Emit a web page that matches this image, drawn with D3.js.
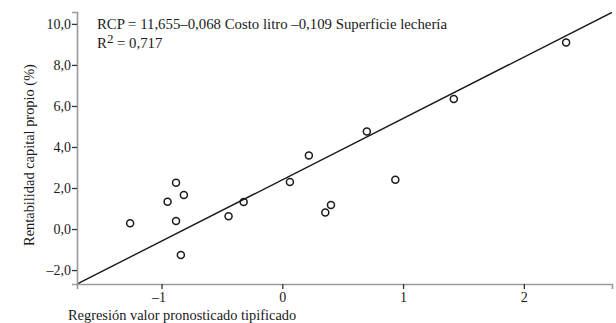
<!DOCTYPE html>
<html>
<head>
<meta charset="utf-8">
<script src="https://d3js.org/d3.v7.min.js"></script>
<style>
  body { margin: 0; background: #fff; }
  text { font-family: "Liberation Serif", "DejaVu Serif", serif; fill: #1a1a1a; }
</style>
</head>
<body>
<svg width="616" height="323"></svg>
<script>
// standardized predicted value (x) and RCP % (y)
const predVals = [-1.26, -0.95, -0.88, -0.815, -0.88, -0.84, -0.445, -0.32, 0.063, 0.22, 0.70, 1.42, 2.35, 0.356, 0.403, 0.936];
const rcpVals  = [0.28, 1.33, 2.26, 1.66, 0.39, -1.27, 0.62, 1.32, 2.29, 3.58, 4.75, 6.34, 9.09, 0.81, 1.17, 2.40];
const yTicks = [-2, 0, 2, 4, 6, 8, 10];
const xTicks = [-1, 0, 1, 2];
const fitIntercept = 2.40;
const fitSlope = 2.99;
const eqLine = "RCP = 11,655–0,068 Costo litro –0,109 Superficie lechería";
const r2Text = "0,717";

const svg = d3.select("svg");
const pLeft = 77, pRight = 612, pTop = 12, pBottom = 284;

const x = d3.scaleLinear().domain([-1.70, 2.73]).range([pLeft, pRight]);
const y = d3.scaleLinear().domain([-2.68, 10.58]).range([pBottom, pTop]);

const loc = d3.formatLocale({decimal: ",", thousands: ".", grouping: [3], currency: ["", ""], minus: "–"});
const fy = loc.format(".1f");
const fx = loc.format("d");

// regression line, clipped to the plot
svg.append("clipPath").attr("id", "clip")
  .append("rect").attr("x", pLeft).attr("y", pTop).attr("width", pRight - pLeft).attr("height", pBottom - pTop);
const [x0, x1] = x.domain();
svg.append("line")
  .attr("clip-path", "url(#clip)")
  .attr("x1", x(x0)).attr("y1", y(fitIntercept + fitSlope * x0))
  .attr("x2", x(x1)).attr("y2", y(fitIntercept + fitSlope * x1))
  .attr("stroke", "#1a1a1a").attr("stroke-width", 1.4);

// axes
const yAxis = svg.append("g").attr("transform", `translate(${pLeft},0)`)
  .call(d3.axisLeft(y).tickValues(yTicks).tickFormat(fy).tickSize(5).tickPadding(1));
const xAxis = svg.append("g").attr("transform", `translate(0,${pBottom})`)
  .call(d3.axisBottom(x).tickValues(xTicks).tickFormat(fx).tickSize(5).tickPadding(3));
[yAxis, xAxis].forEach(g => {
  g.select(".domain").attr("stroke", "#9a9a9a").attr("stroke-width", 1.6);
  g.selectAll(".tick line").attr("stroke", "#333").attr("stroke-width", 1.3);
  g.selectAll(".tick text").attr("font-size", 14).attr("font-family", "Liberation Serif").attr("fill", "#1a1a1a");
});
xAxis.selectAll(".tick text").attr("dx", d => d < 0 ? -3 : 0);

// points
svg.append("g").selectAll("circle")
  .data(predVals.map((v, i) => [v, rcpVals[i]]))
  .join("circle")
  .attr("cx", d => x(d[0]))
  .attr("cy", d => y(d[1]))
  .attr("r", 3.5)
  .attr("fill", "none")
  .attr("stroke", "#1a1a1a")
  .attr("stroke-width", 1.5);

// equation text
svg.append("text").attr("x", 97).attr("y", 29).attr("font-size", 14.8).text(eqLine);
const r2 = svg.append("text").attr("x", 97).attr("y", 48).attr("font-size", 14.8);
r2.append("tspan").text("R");
r2.append("tspan").attr("dy", -5).attr("font-size", 13).text("2");
r2.append("tspan").attr("dy", 5).text(" = " + r2Text);

// axis titles
svg.append("text").attr("x", 68).attr("y", 320).attr("font-size", 14.4)
  .text("Regresión valor pronosticado tipificado");
svg.append("text")
  .attr("transform", "translate(34,155) rotate(-90)")
  .attr("text-anchor", "middle").attr("font-size", 14.4)
  .text("Rentabilidad capital propio (%)");
</script>
</body>
</html>
